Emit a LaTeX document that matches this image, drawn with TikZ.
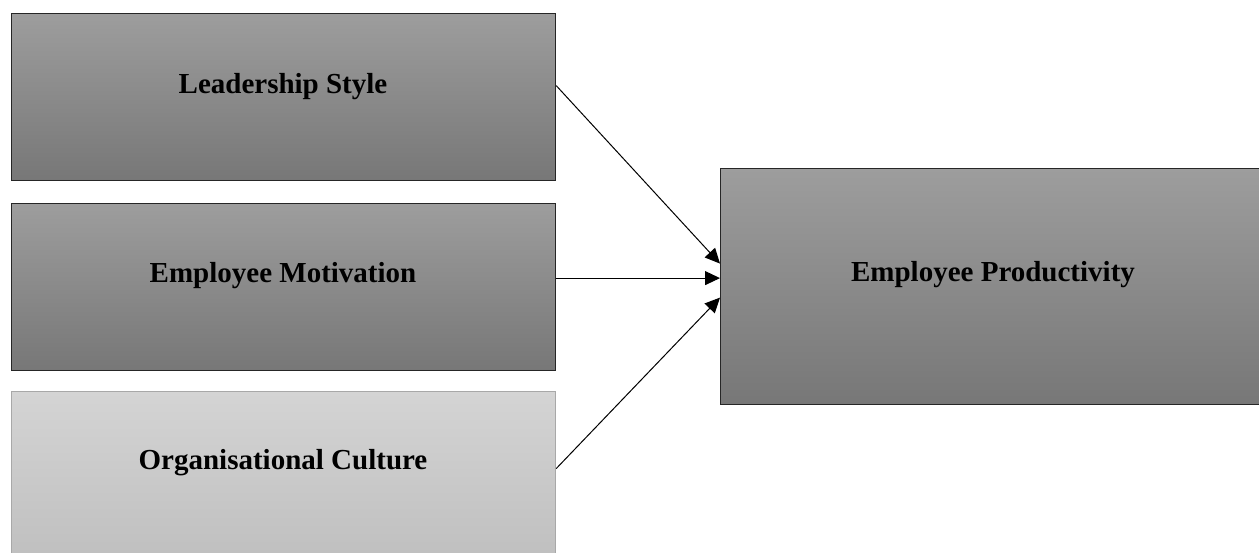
\documentclass[tikz,border=0pt]{standalone}
\usepackage{fontspec}
\setmainfont{Liberation Serif}
\usetikzlibrary{arrows.meta}
\definecolor{dtop}{HTML}{9D9D9D}
\definecolor{dbot}{HTML}{777777}
\definecolor{ltop}{HTML}{D4D4D4}
\definecolor{lbot}{HTML}{BFBFBF}
\definecolor{lborder}{HTML}{A8A8A8}
\begin{document}
\begin{tikzpicture}[x=1pt,y=-1pt,
  darkbox/.style={draw=black!85, line width=1.2pt, top color=dtop, bottom color=dbot,
    anchor=north west, inner sep=0pt, minimum width=544pt, minimum height=167pt},
  lightbox/.style={darkbox, draw=lborder, top color=ltop, bottom color=lbot},
  lbl/.style={anchor=base, font=\fontsize{29}{34}\selectfont\bfseries, inner sep=0pt},
  arr/.style={-{Triangle[length=15pt,width=14pt]}, line width=1pt, black}]
\useasboundingbox (0,0) rectangle (1259,552);
\clip (0,0) rectangle (1259,552);
\fill[white] (0,0) rectangle (1259,552);
\node[darkbox] (ls) at (11,13) {};
\node[darkbox] (em) at (11,203) {};
\node[lightbox, minimum height=170pt] (oc) at (11,391) {};
\node[darkbox, minimum width=546pt, minimum height=236pt] (ep) at (720,168) {};
\node[lbl] (lsl) at (283,93) {Leadership Style};
\node[lbl] (eml) at (283,282) {Employee Motivation};
\node[lbl] (ocl) at (283,469) {Organisational Culture};
\node[lbl] (epl) at (993,281) {Employee Productivity};
\draw[arr] ([yshift=11.5pt]ls.east) -- ([yshift=23pt]ep.west);
\draw[arr] ([yshift=9pt]em.east) -- ([yshift=8.5pt]ep.west);
\draw[arr] ([yshift=8pt]oc.east) -- ([yshift=-11pt]ep.west);
\end{tikzpicture}
\end{document}
